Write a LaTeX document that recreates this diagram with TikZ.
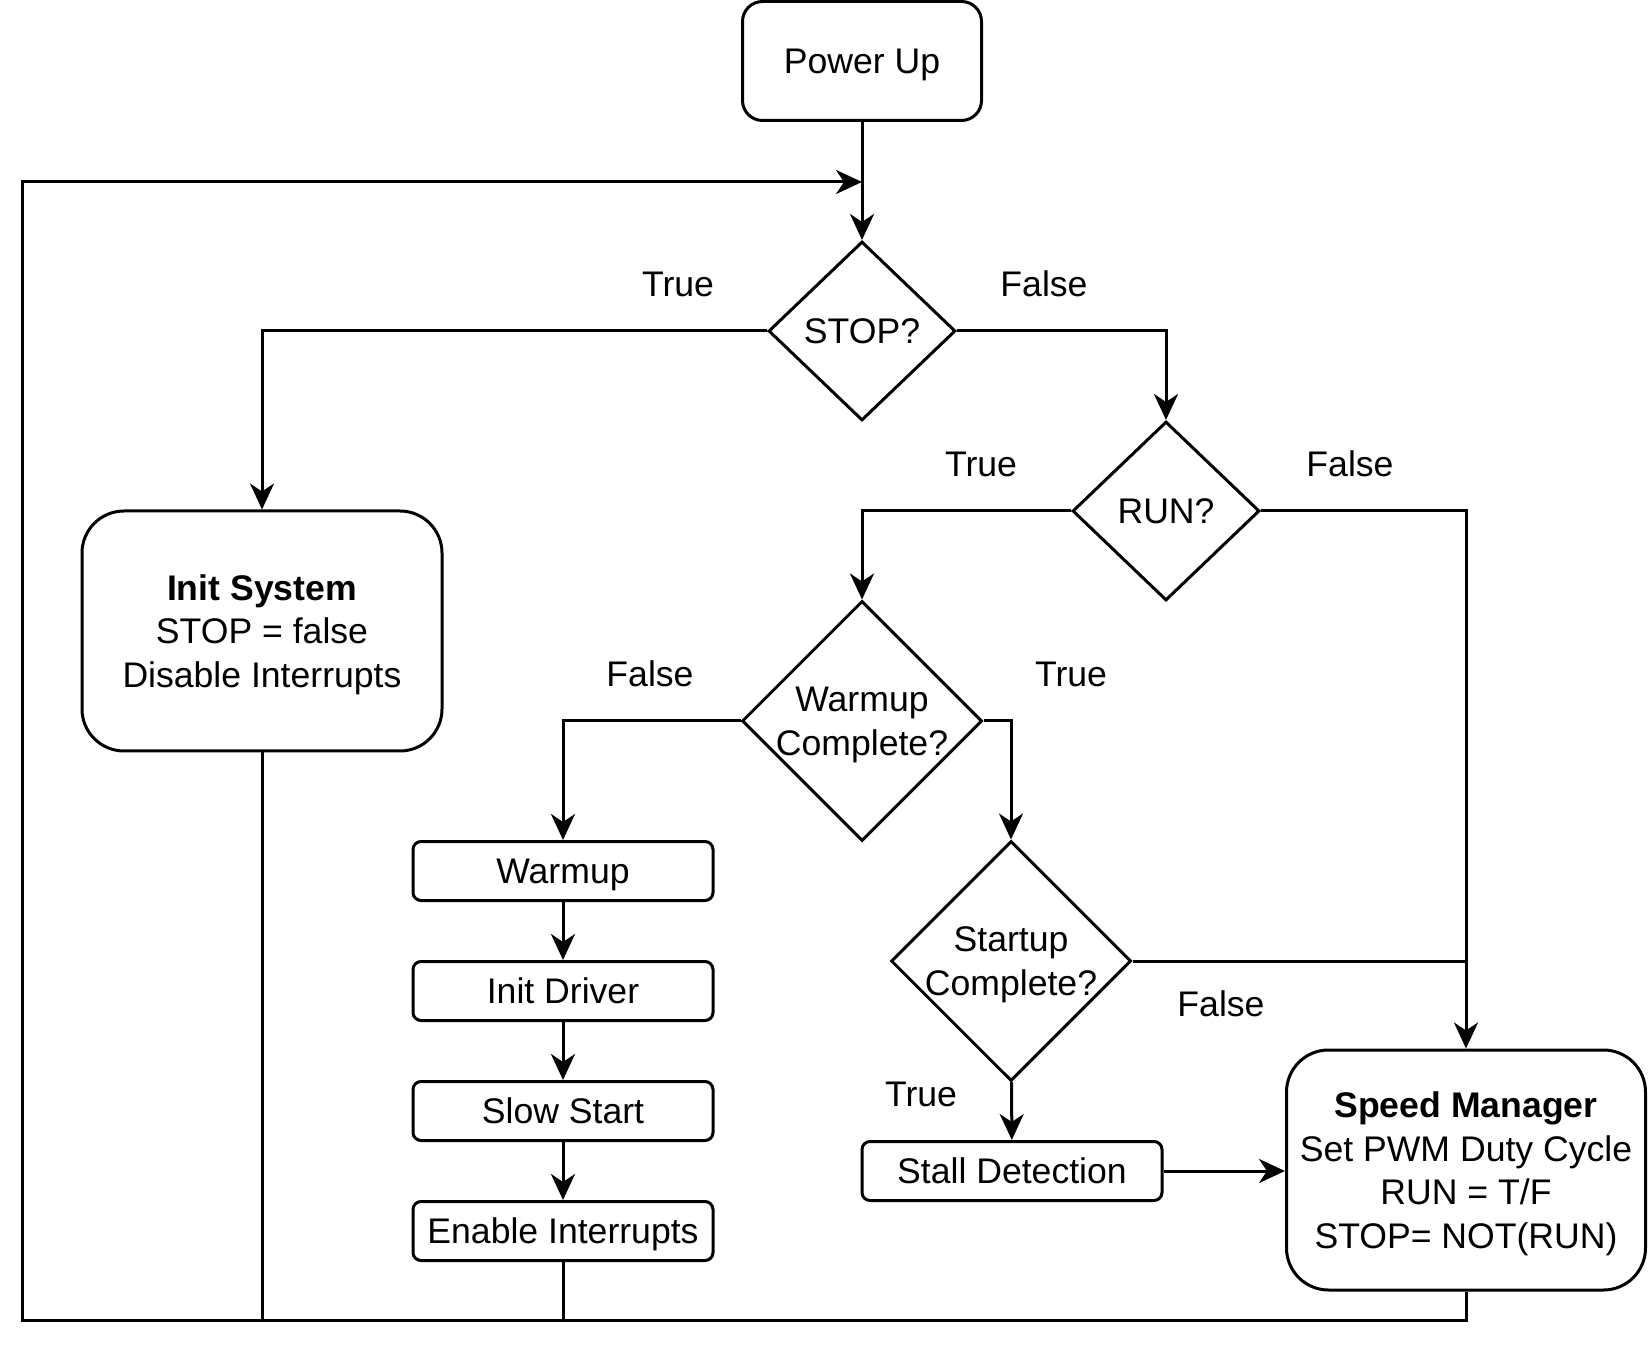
\documentclass[tikz,border=0pt]{standalone}
\usepackage{fontspec}
\setmainfont{Liberation Sans}
\usetikzlibrary{shapes.geometric,arrows.meta}

\begin{document}
\begin{tikzpicture}[x=0.5pt,y=-0.5pt,line width=1.5pt,
  every node/.style={font=\fontsize{17.8}{21.8}\selectfont, inner sep=0pt, text depth=0pt},
  flow/.style={-{Stealth[length=13pt,width=12pt,inset=4pt]}},
  bigbox/.style={draw, rounded corners=21pt, align=center, minimum width=180pt, minimum height=120pt},
  stepbox/.style={draw, rounded corners=4pt, minimum width=150pt, minimum height=29.5pt},
  test/.style={draw, diamond, align=center, inner sep=-8pt}]
\useasboundingbox (0,0) rectangle (1650,1347);

\node [stepbox, rounded corners=10pt, minimum width=119.5pt, minimum height=59.5pt] (power) at (862,61) {Power Up};
\node [test, minimum width=93.5pt, minimum height=89.5pt] (stop) at (862,331) {STOP?};
\node [test, minimum width=93.5pt, minimum height=89.5pt] (run) at (1166,511) {RUN?};
\node [test, minimum size=120pt] (warmc) at (862,721) {Warmup\\Complete?};
\node [test, minimum size=120pt] (startc) at (1011,961) {Startup\\Complete?};

\node [bigbox] (init) at (262,631) {\textbf{Init System}\\STOP = false\\Disable Interrupts};
\node [bigbox, minimum width=179.5pt] (speed) at (1466,1170)
  {\textbf{Speed Manager}\\Set PWM Duty Cycle\\RUN = T/F\\STOP= NOT(RUN)};
\node [stepbox] (stall) at (1012,1171) {Stall Detection};

\foreach \name/\txt [count=\i from 0] in
  {warmup/Warmup, initdrv/Init Driver, slow/Slow Start, enable/Enable Interrupts}
  \node [stepbox] (\name) at (563,871+\i*120) {\txt};

\foreach \a/\b in {warmup/initdrv, initdrv/slow, slow/enable}
  \draw [flow] (\a) -- (\b);

% branches
\draw [flow] (power) -- (stop);
\draw [flow] (stop.west) -| (init.north);
\draw [flow] (stop.east) -| (run.north);
\draw [flow] (run.west) -| (warmc.north);
\draw [flow] (run.east) -| (speed.north);
\draw [flow] (warmc.west) -| (warmup.north);
\draw [flow] (warmc.east) -| (startc.north);
\draw (startc.east) -- (startc.east -| speed.north);
\draw [flow] (startc) -- (stall);
\draw [flow] (stall) -- (stall -| speed.west);

% back to the top
\coordinate (corner) at (22,1320);
\coordinate (merge) at (862,182);
\draw [flow] (speed.south) |- (corner) |- (merge);
\draw (init.south) -- (init.south |- corner);
\draw (enable.south) -- (enable.south |- corner);

\foreach \x/\y/\txt [count=\i] in
  {678/284/True, 1044/284/False, 981/464/True, 1350/464/False,
   650/674/False, 1071/674/True, 1221/1004/False, 921/1094/True}
  \node (lbl\i) at (\x,\y) {\txt};

\end{tikzpicture}
\end{document}
